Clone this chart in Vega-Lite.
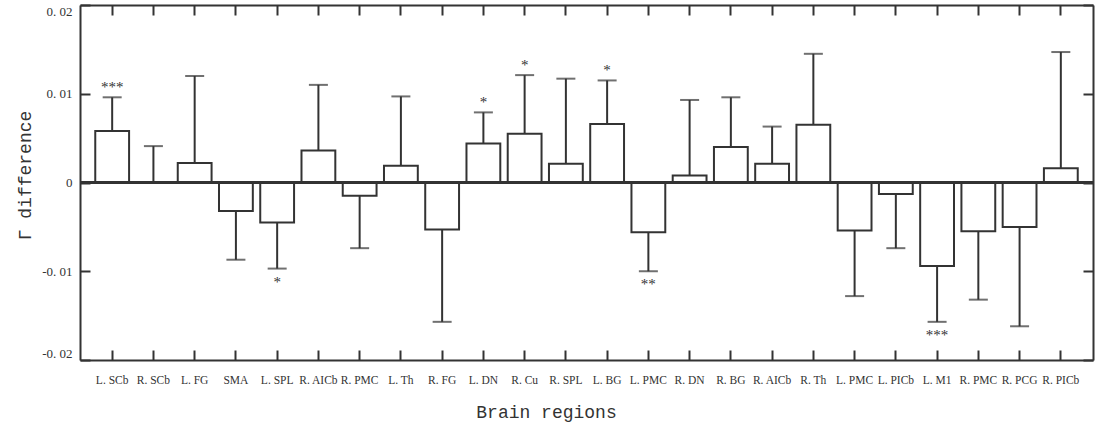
{
  "$schema": "https://vega.github.io/schema/vega-lite/v6.json",
  "width": 1013,
  "height": 355,
  "autosize": {"type": "none"},
  "padding": {"left": 80, "top": 5, "right": 5, "bottom": 67},
  "config": {
    "view": {"stroke": null},
    "axis": {
      "domainColor": "#333",
      "domainWidth": 2,
      "tickColor": "#333",
      "tickWidth": 2,
      "grid": false,
      "labelColor": "#333",
      "titleColor": "#333",
      "labelFont": "Liberation Serif",
      "titleFont": "Liberation Mono",
      "titleFontWeight": "normal",
      "titleFontSize": 18
    }
  },
  "data": {
    "values": [
      {"region": "L. SCb", "value": 0.0058, "err": 0.0096, "sig": "***"},
      {"region": "R. SCb", "value": 0.0, "err": 0.0041, "sig": ""},
      {"region": "L. FG", "value": 0.0022, "err": 0.012, "sig": ""},
      {"region": "SMA", "value": -0.0032, "err": -0.0087, "sig": ""},
      {"region": "L. SPL", "value": -0.0045, "err": -0.0097, "sig": "*"},
      {"region": "R. AICb", "value": 0.0036, "err": 0.011, "sig": ""},
      {"region": "R. PMC", "value": -0.0015, "err": -0.0074, "sig": ""},
      {"region": "L. Th", "value": 0.0019, "err": 0.0097, "sig": ""},
      {"region": "R. FG", "value": -0.0053, "err": -0.0157, "sig": ""},
      {"region": "L. DN", "value": 0.0044, "err": 0.0079, "sig": "*"},
      {"region": "R. Cu", "value": 0.0055, "err": 0.0121, "sig": "*"},
      {"region": "R. SPL", "value": 0.0021, "err": 0.0117, "sig": ""},
      {"region": "L. BG", "value": 0.0066, "err": 0.0115, "sig": "*"},
      {"region": "L. PMC", "value": -0.0056, "err": -0.01, "sig": "**"},
      {"region": "R. DN", "value": 0.0008, "err": 0.0093, "sig": ""},
      {"region": "R. BG", "value": 0.004, "err": 0.0096, "sig": ""},
      {"region": "R. AICb\u200b", "value": 0.0021, "err": 0.0063, "sig": ""},
      {"region": "R. Th", "value": 0.0065, "err": 0.0145, "sig": ""},
      {"region": "L. PMC\u200b", "value": -0.0054, "err": -0.0128, "sig": ""},
      {"region": "L. PICb", "value": -0.0013, "err": -0.0074, "sig": ""},
      {"region": "L. M1", "value": -0.0094, "err": -0.0157, "sig": "***"},
      {"region": "R. PMC\u200b", "value": -0.0055, "err": -0.0132, "sig": ""},
      {"region": "R. PCG", "value": -0.005, "err": -0.0162, "sig": ""},
      {"region": "R. PICb", "value": 0.0016, "err": 0.0147, "sig": ""}
    ]
  },
  "layer": [
    {
      "mark": {"type": "rule", "color": "#333", "strokeWidth": 2},
      "encoding": {
        "x": {"field": "region", "type": "nominal", "sort": null, "axis": null},
        "y": {"field": "value", "type": "quantitative", "axis": null},
        "y2": {"field": "err"}
      }
    },
    {
      "mark": {"type": "tick", "color": "#333", "size": 19, "thickness": 2},
      "encoding": {
        "x": {"field": "region", "type": "nominal", "sort": null, "axis": null},
        "y": {"field": "err", "type": "quantitative", "axis": null}
      }
    },
    {
      "mark": {"type": "bar", "fill": "white", "stroke": "#333", "strokeWidth": 2},
      "encoding": {
        "x": {
          "field": "region", "type": "nominal", "sort": null,
          "scale": {"paddingInner": 0.18, "paddingOuter": 0.37},
          "axis": {
            "orient": "bottom", "title": "Brain regions",
            "labelAngle": 0, "labelFontSize": 11.5, "labelOverlap": false,
            "labelPadding": 24, "tickSize": -10, "labelBaseline": "top",
            "titleX": 466, "titleY": 52, "titleAlign": "center", "titleBaseline": "middle", "titleAnchor": null
          }
        },
        "y": {
          "field": "value", "type": "quantitative",
          "scale": {"domain": [-0.02, 0.02], "nice": false, "zero": true},
          "axis": {
            "orient": "left", "title": "Γ difference",
            "values": [-0.02, -0.01, 0, 0.01, 0.02],
            "labelExpr": "datum.value == 0 ? '0' : (datum.value < 0 ? '-' : '') + '0. 0' + round(abs(datum.value) * 100)",
            "labelFontSize": 13, "labelPadding": 18, "tickSize": -10, "labelFlush": true,
            "titleX": -55, "titleY": 170, "titleAlign": "center", "titleBaseline": "middle", "titleAnchor": null
          }
        },
        "y2": {"datum": 0}
      }
    },
    {
      "mark": {"type": "rule", "color": "#333", "strokeWidth": 2},
      "encoding": {"y": {"datum": 0, "type": "quantitative", "axis": null}}
    },
    {
      "transform": [{"filter": "datum.sig != '' && datum.err > 0"}],
      "mark": {"type": "text", "font": "Liberation Serif", "fontSize": 15, "color": "#333", "dy": -5, "baseline": "alphabetic"},
      "encoding": {
        "x": {"field": "region", "type": "nominal", "sort": null, "axis": null},
        "y": {"field": "err", "type": "quantitative", "axis": null},
        "text": {"field": "sig"}
      }
    },
    {
      "transform": [{"filter": "datum.sig != '' && datum.err < 0"}],
      "mark": {"type": "text", "font": "Liberation Serif", "fontSize": 15, "color": "#333", "dy": 18, "baseline": "alphabetic"},
      "encoding": {
        "x": {"field": "region", "type": "nominal", "sort": null, "axis": null},
        "y": {"field": "err", "type": "quantitative", "axis": null},
        "text": {"field": "sig"}
      }
    },
    {
      "mark": {"type": "point", "opacity": 0},
      "encoding": {
        "x": {
          "field": "region", "type": "nominal", "sort": null,
          "axis": {"orient": "top", "labels": false, "title": null, "tickSize": -10}
        },
        "y": {
          "field": "value", "type": "quantitative",
          "axis": {"orient": "right", "labels": false, "title": null, "tickSize": -10, "values": [-0.02, -0.01, 0, 0.01, 0.02]}
        }
      }
    }
  ]
}
